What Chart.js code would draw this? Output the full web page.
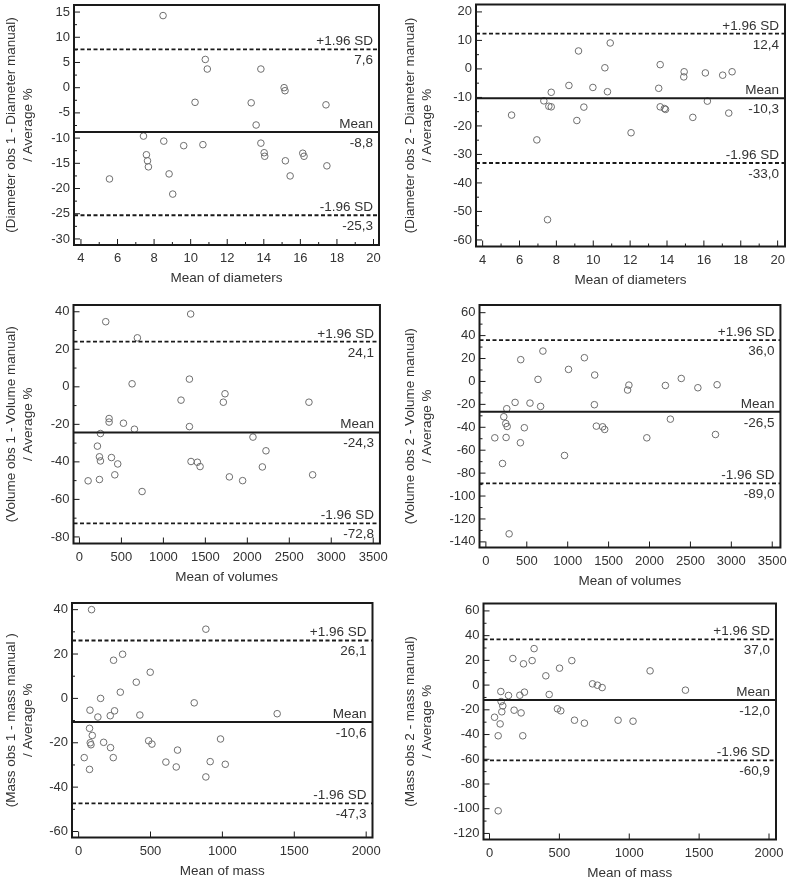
<!DOCTYPE html>
<html>
<head>
<meta charset="utf-8">
<script src="https://cdn.jsdelivr.net/npm/chart.js@4.4.1/dist/chart.umd.min.js"></script>
<style>
  html, body { margin: 0; padding: 0; background: #fff; }
  body { width: 793px; height: 881px; position: relative; overflow: hidden; }
  canvas { position: absolute; }
</style>
</head>
<body>
<canvas id="c1"></canvas>
<canvas id="c2"></canvas>
<canvas id="c3"></canvas>
<canvas id="c4"></canvas>
<canvas id="c5"></canvas>
<canvas id="c6"></canvas>
<script>
// values

// diameter, observer 1
const diam1X = [8.49, 10.8, 10.91, 13.84, 10.24, 13.31, 15.11, 15.16, 17.4, 13.58, 7.42, 8.53, 9.62, 10.67,
  13.84, 14.02, 14.05, 7.58, 7.64, 7.69, 8.82, 9.02, 5.56, 15.18, 15.44, 16.13, 16.2, 17.45];
const diam1Y = [14.3, 5.6, 3.7, 3.7, -2.9, -3.0, 0.0, -0.6, -3.4, -7.4, -9.6, -10.6, -11.5, -11.3,
  -11.0, -12.9, -13.6, -13.3, -14.5, -15.7, -17.1, -21.1, -18.1, -14.5, -17.5, -13.0, -13.6, -15.5];
const diam1Limits = [7.6, -8.8, -25.3];

// diameter, observer 2
const diam2X = [9.2, 10.92, 10.63, 13.63, 14.93, 14.91, 16.08, 17.02, 17.53, 8.68, 9.98, 7.72, 10.77, 13.55,
  7.32, 16.19, 7.59, 7.72, 9.49, 13.63, 13.86, 13.92, 5.57, 9.11, 15.4, 17.35, 12.05, 6.94, 7.52];
const diam2Y = [6.3, 9.1, 0.4, 1.5, -1.0, -2.8, -1.4, -2.2, -1.0, -5.8, -6.5, -8.2, -8.0, -6.8,
  -11.2, -11.3, -13.1, -13.3, -13.4, -13.3, -13.9, -14.2, -16.2, -18.1, -17.0, -15.5, -22.4, -24.9, -52.9];
const diam2Limits = [12.4, -10.3, -33.0];

// volume, observer 1
const vol1X = [313, 1325, 690, 627, 1310, 1210, 1734, 1714, 2734, 353, 353, 524, 655, 250, 1310, 214, 238,
  250, 381, 456, 421, 238, 103, 746, 1329, 1405, 1437, 1786, 1944, 2067, 2222, 2179, 2778];
const vol1Y = [34.7, 38.8, 26.1, 1.6, 4.1, -7.1, -3.7, -8.2, -8.2, -16.9, -18.8, -19.4, -22.6, -24.9, -21.2, -31.6, -37.3,
  -39.5, -37.7, -41.1, -46.9, -49.4, -50.1, -55.8, -39.8, -40.2, -42.5, -48.0, -50.0, -26.8, -34.1, -42.7, -46.9];
const vol1Limits = [24.1, -24.3, -72.8];

// volume, observer 2
const vol2X = [697, 426, 1204, 1010, 1330, 637, 2388, 1748, 1732, 2194, 2591, 2826, 357, 539, 669, 1326, 255,
  219, 243, 260, 470, 1350, 1427, 1452, 109, 247, 422, 1967, 2255, 2806, 961, 203, 284];
const vol2Y = [26.5, 19.0, 20.7, 10.5, 5.6, 1.8, 2.6, -3.2, -7.5, -3.5, -5.5, -2.9, -18.3, -18.9, -21.8, -20.3, -23.8,
  -30.8, -36.7, -39.3, -40.4, -39.0, -39.6, -41.9, -49.2, -48.9, -53.5, -49.2, -32.9, -46.3, -64.6, -71.6, -133.0];
const vol2Limits = [36.0, -26.5, -89.0];

// mass, observer 1
const mass1X = [90, 885, 306, 243, 498, 401, 290, 153, 804, 1381, 79, 250, 134, 220, 426, 76, 95,
  81, 86, 174, 222, 241, 39, 76, 487, 510, 688, 607, 679, 885, 987, 915, 1020];
const mass1Y = [40.0, 31.2, 19.9, 17.2, 11.8, 7.3, 2.8, 0.0, -2.0, -6.9, -5.3, -5.6, -8.4, -7.8, -7.5, -13.5, -16.7,
  -20.0, -20.9, -19.8, -22.2, -26.7, -26.7, -32.0, -19.1, -20.6, -23.3, -28.7, -30.9, -35.4, -18.3, -28.5, -29.7];
const mass1Limits = [26.1, -10.6, -47.3];

// mass, observer 2
const mass2X = [319, 167, 305, 243, 589, 501, 1149, 403, 737, 772, 806, 1402, 81, 250, 136, 217, 427,
  83, 95, 88, 176, 226, 36, 76, 62, 238, 486, 510, 608, 679, 920, 1027, 62];
const mass2Y = [29.5, 21.5, 19.8, 17.2, 19.8, 13.7, 11.5, 7.5, 1.0, -0.1, -2.0, -4.1, -5.2, -5.7, -8.4, -8.2, -7.6,
  -13.3, -16.8, -21.6, -20.3, -22.5, -26.0, -31.4, -41.0, -41.0, -19.2, -20.8, -28.4, -30.8, -28.4, -29.2, -101.7];
const mass2Limits = [37.0, -12.0, -60.9];

// tick labels
const diamXTicks = [4, 6, 8, 10, 12, 14, 16, 18, 20];
const volXTicks = [0, 500, 1000, 1500, 2000, 2500, 3000, 3500];
const massXTicks = [0, 500, 1000, 1500, 2000];
const diam1YTicks = [-30, -25, -20, -15, -10, -5, 0, 5, 10, 15];
const diam2YTicks = [-60, -50, -40, -30, -20, -10, 0, 10, 20];
const vol1YTicks = [-80, -60, -40, -20, 0, 20, 40];
const vol2YTicks = [-140, -120, -100, -80, -60, -40, -20, 0, 20, 40, 60];
const mass1YTicks = [-60, -40, -20, 0, 20, 40];
const mass2YTicks = [-120, -100, -80, -60, -40, -20, 0, 20, 40, 60];

const limitNames = ['+1.96 SD', 'Mean', '-1.96 SD'];
const avgLabel = '/ Average %';

const FONT = '"Liberation Sans", Arial, sans-serif';
const TEXT = '#333';
const INK = '#1a1a1a';

// frame = [left, top, right, bottom] of the plot box on the page
const panels = [
    { id: 'c1', xs: diam1X, ys: diam1Y, limits: diam1Limits, xTicks: diamXTicks, yTicks: diam1YTicks, xMinor: true,
      xRange: [3.62, 20.3], yRange: [-31.2, 16.4], frame: [74, 5, 379, 245], col: 0,
      xTitle: 'Mean of diameters', yTitle: ['(Diameter obs 1 - Diameter manual)', avgLabel] },
    { id: 'c2', xs: diam2X, ys: diam2Y, limits: diam2Limits, xTicks: diamXTicks, yTicks: diam2YTicks, xMinor: true,
      xRange: [3.64, 20.4], yRange: [-62.3, 22.6], frame: [476, 4.5, 785, 246.5], col: 399,
      xTitle: 'Mean of diameters', yTitle: ['(Diameter obs 2 - Diameter manual)', avgLabel] },
    { id: 'c3', xs: vol1X, ys: vol1Y, limits: vol1Limits, xTicks: volXTicks, yTicks: vol1YTicks, xMinor: false,
      xRange: [-71, 3580], yRange: [-83.5, 43.6], frame: [73.5, 305, 380, 543.5], col: 0,
      xTitle: 'Mean of volumes', yTitle: ['(Volume obs 1 - Volume manual)', avgLabel] },
    { id: 'c4', xs: vol2X, ys: vol2Y, limits: vol2Limits, xTicks: volXTicks, yTicks: vol2YTicks, xMinor: false,
      xRange: [-78, 3600], yRange: [-144.9, 66.7], frame: [479.5, 305, 782, 547.5], col: 399,
      xTitle: 'Mean of volumes', yTitle: ['(Volume obs 2 - Volume manual)', avgLabel] },
    { id: 'c5', xs: mass1X, ys: mass1Y, limits: mass1Limits, xTicks: massXTicks, yTicks: mass1YTicks, xMinor: false,
      xRange: [-46, 2044], yRange: [-62.7, 43], frame: [72, 603, 372.5, 837.5], col: 0,
      xTitle: 'Mean of mass', yTitle: ['(Mass obs 1 - mass manual )', avgLabel] },
    { id: 'c6', xs: mass2X, ys: mass2Y, limits: mass2Limits, xTicks: massXTicks, yTicks: mass2YTicks, xMinor: false,
      xRange: [-43, 2050], yRange: [-124.9, 66], frame: [483.5, 603.5, 776, 839.5], col: 399,
      xTitle: 'Mean of mass', yTitle: ['(Mass obs 2 - mass manual)', avgLabel] }
];

function mids(ticks) {
    const out = [];
    for (let i = 0; i < ticks.length - 1; i++) out.push((ticks[i] + ticks[i + 1]) / 2);
    return out;
}

// box, inward ticks and the limit labels
function framePlugin(p) {
    return {
        id: 'frame',
        afterDatasetsDraw(chart) {
            const { ctx, chartArea: a } = chart;
            const x = chart.scales.x, y = chart.scales.y;
            ctx.save();
            ctx.strokeStyle = INK;
            ctx.lineWidth = 1;
            ctx.beginPath();
            p.yTicks.forEach(v => {
                const py = y.getPixelForValue(v);
                ctx.moveTo(a.left, py); ctx.lineTo(a.left + 6, py);
            });
            mids(p.yTicks).forEach(v => {
                const py = y.getPixelForValue(v);
                ctx.moveTo(a.left, py); ctx.lineTo(a.left + 3, py);
            });
            p.xTicks.forEach(v => {
                const px = x.getPixelForValue(v);
                ctx.moveTo(px, a.bottom); ctx.lineTo(px, a.bottom - 6);
            });
            if (p.xMinor) {
                mids(p.xTicks).forEach(v => {
                    const px = x.getPixelForValue(v);
                    ctx.moveTo(px, a.bottom); ctx.lineTo(px, a.bottom - 3);
                });
            }
            ctx.stroke();
            ctx.lineWidth = 2;
            ctx.strokeRect(a.left, a.top, a.right - a.left, a.bottom - a.top);

            ctx.fillStyle = TEXT;
            ctx.font = '13.5px ' + FONT;
            ctx.textAlign = 'right';
            p.limits.forEach((v, i) => {
                const py = y.getPixelForValue(v);
                ctx.textBaseline = 'alphabetic';
                ctx.fillText(limitNames[i], a.right - 6, py - 4);
                ctx.textBaseline = 'top';
                ctx.fillText(v.toFixed(1).replace('.', ','), a.right - 6, py + 4.5);
            });
            ctx.restore();
        }
    };
}

panels.forEach(p => {
    const cv = document.getElementById(p.id);
    const [L, T, R, B] = p.frame;
    const top = Math.floor(T - 14);
    const w = 394;
    const h = Math.ceil(B + 45 - top);
    cv.width = w; cv.height = h;
    cv.style.left = p.col + 'px';
    cv.style.top = top + 'px';
    cv.style.width = w + 'px';
    cv.style.height = h + 'px';
    const yW = L - p.col;
    const xH = top + h - B;

    const lineSets = p.limits.map((v, i) => ({
        type: 'line',
        data: [{ x: p.xRange[0], y: v }, { x: p.xRange[1], y: v }],
        borderColor: INK,
        borderWidth: i === 1 ? 2 : 1.8,
        borderDash: i === 1 ? [] : [4, 2.5],
        pointRadius: 0
    }));

    new Chart(cv, {
        type: 'scatter',
        data: {
            datasets: [...lineSets, {
                data: p.xs.map((x, i) => ({ x: x, y: p.ys[i] })),
                pointRadius: 3.3,
                borderColor: '#6e6e6e',
                backgroundColor: 'rgba(0,0,0,0)',
                borderWidth: 1
            }]
        },
        options: {
            responsive: false,
            animation: false,
            devicePixelRatio: 1,
            layout: { padding: { left: 0, top: T - top, right: w - (R - p.col), bottom: 0 } },
            plugins: { legend: { display: false }, tooltip: { enabled: false } },
            scales: {
                x: {
                    type: 'linear', min: p.xRange[0], max: p.xRange[1],
                    afterBuildTicks: s => { s.ticks = p.xTicks.map(v => ({ value: v })); },
                    afterFit: s => { s.height = xH; },
                    grid: { display: false, drawTicks: false },
                    border: { display: false },
                    ticks: { padding: 6, color: TEXT, font: { size: 13, family: FONT }, autoSkip: false, maxRotation: 0,
                        callback: v => String(v) },
                    title: { display: true, text: p.xTitle, color: TEXT, padding: { top: 0, bottom: 3.5 },
                        font: { size: 13.5, family: FONT, lineHeight: 1.26 } }
                },
                y: {
                    type: 'linear', min: p.yRange[0], max: p.yRange[1],
                    afterBuildTicks: s => { s.ticks = p.yTicks.map(v => ({ value: v })); },
                    afterFit: s => { s.width = yW; },
                    grid: { display: false, drawTicks: false },
                    border: { display: false },
                    ticks: { padding: 4, color: TEXT, font: { size: 13, family: FONT }, autoSkip: false,
                        callback: v => String(v) },
                    title: { display: true, text: p.yTitle, color: TEXT, padding: { top: 2.5, bottom: 0 },
                        font: { size: 13.5, family: FONT, lineHeight: 1.26 } }
                }
            }
        },
        plugins: [framePlugin(p)]
    });
});
</script>
</body>
</html>
